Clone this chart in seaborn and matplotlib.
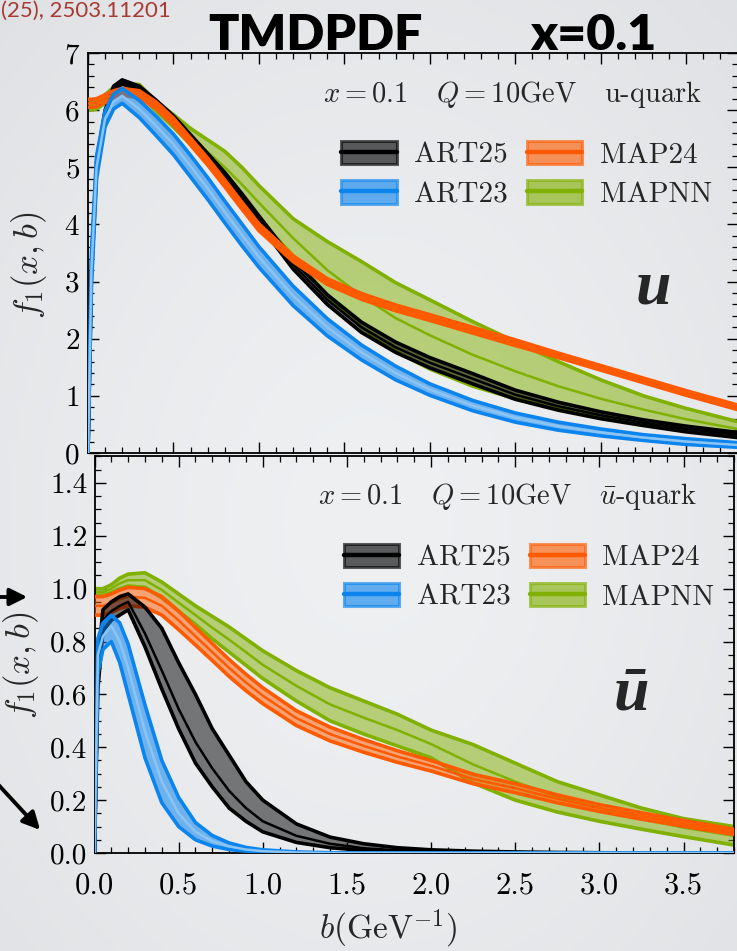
import numpy as np
import matplotlib
matplotlib.use("Agg")
import matplotlib.pyplot as plt
import seaborn as sns
from matplotlib.patches import Patch, FancyArrowPatch
from matplotlib.lines import Line2D
from matplotlib.legend_handler import HandlerTuple
from matplotlib.ticker import MultipleLocator, FormatStrFormatter

# ---------------- data ----------------
B = [0.0, 0.02, 0.05, 0.1, 0.15, 0.2, 0.3, 0.4, 0.5, 0.6, 0.7, 0.8, 0.9, 1.0,
     1.2, 1.4, 1.6, 1.8, 2.0, 2.25, 2.5, 2.75, 3.0, 3.25, 3.5, 3.8]

models = ["ART25", "ART23", "MAP24", "MAPNN"]
colors = {"ART25": "#000000", "ART23": "#0b84ee", "MAP24": "#ff5a00", "MAPNN": "#80b000"}

# u-quark
u_art25_lo = [0, 3.1, 4.9, 5.9, 6.34, 6.46, 6.34, 6.09, 5.8, 5.47, 5.12, 4.79, 4.4, 4.01,
              3.22, 2.6, 2.11, 1.76, 1.49, 1.21, 0.94, 0.75, 0.6, 0.48, 0.37, 0.27]
u_art25_mid = [0, 3.2, 5.0, 5.95, 6.38, 6.5, 6.38, 6.13, 5.85, 5.52, 5.18, 4.85, 4.47, 4.08,
               3.3, 2.68, 2.2, 1.85, 1.58, 1.3, 1.02, 0.82, 0.66, 0.53, 0.42, 0.32]
u_art25_hi = [0, 3.3, 5.1, 6.0, 6.42, 6.53, 6.42, 6.17, 5.9, 5.57, 5.24, 4.91, 4.54, 4.15,
              3.38, 2.77, 2.29, 1.94, 1.67, 1.39, 1.1, 0.89, 0.72, 0.58, 0.47, 0.36]

u_art23_lo = [0, 2.9, 4.8, 5.71, 6.02, 6.12, 5.87, 5.55, 5.22, 4.83, 4.44, 4.03, 3.63, 3.25,
              2.58, 2.05, 1.63, 1.28, 1.01, 0.74, 0.54, 0.4, 0.3, 0.22, 0.15, 0.1]
u_art23_mid = [0, 3.2, 5.0, 5.85, 6.15, 6.25, 6.02, 5.72, 5.4, 5.02, 4.63, 4.22, 3.82, 3.43,
               2.75, 2.2, 1.76, 1.4, 1.11, 0.83, 0.62, 0.47, 0.36, 0.27, 0.2, 0.14]
u_art23_hi = [0, 3.5, 5.2, 5.99, 6.28, 6.38, 6.17, 5.89, 5.58, 5.21, 4.82, 4.41, 4.01, 3.61,
              2.92, 2.35, 1.89, 1.52, 1.21, 0.92, 0.7, 0.54, 0.42, 0.32, 0.25, 0.18]

u_map24_lo = [6.05, 6.05, 6.06, 6.13, 6.22, 6.26, 6.22, 6.02, 5.74, 5.39, 5.04, 4.66, 4.27, 3.89,
              3.35, 2.95, 2.69, 2.49, 2.32, 2.1, 1.88, 1.67, 1.45, 1.23, 1.01, 0.76]
u_map24_mid = [6.12, 6.12, 6.13, 6.2, 6.28, 6.32, 6.28, 6.08, 5.8, 5.45, 5.1, 4.72, 4.33, 3.95,
               3.4, 3.0, 2.74, 2.54, 2.37, 2.15, 1.93, 1.71, 1.49, 1.27, 1.05, 0.8]
u_map24_hi = [6.19, 6.19, 6.2, 6.27, 6.34, 6.38, 6.34, 6.14, 5.86, 5.51, 5.16, 4.78, 4.39, 4.01,
              3.45, 3.05, 2.79, 2.59, 2.42, 2.2, 1.98, 1.75, 1.53, 1.31, 1.09, 0.84]

u_mapnn_lo = [6.0, 6.0, 6.02, 6.12, 6.25, 6.32, 6.27, 5.98, 5.7, 5.4, 5.07, 4.75, 4.42, 4.1,
              3.45, 2.75, 2.2, 1.78, 1.47, 1.17, 0.95, 0.78, 0.64, 0.52, 0.41, 0.29]
u_mapnn_mid = [6.07, 6.07, 6.1, 6.2, 6.33, 6.39, 6.36, 6.07, 5.81, 5.54, 5.27, 5.0, 4.7, 4.38,
               3.76, 3.2, 2.75, 2.36, 2.06, 1.72, 1.43, 1.17, 0.95, 0.76, 0.59, 0.42]
u_mapnn_hi = [6.15, 6.15, 6.17, 6.27, 6.4, 6.46, 6.45, 6.15, 5.92, 5.68, 5.48, 5.28, 5.0, 4.68,
              4.1, 3.7, 3.35, 2.98, 2.68, 2.3, 1.95, 1.6, 1.28, 1.0, 0.78, 0.55]

# u-bar quark
ub_art25_lo = [0, 0.62, 0.84, 0.88, 0.9, 0.92, 0.78, 0.62, 0.47, 0.34, 0.25, 0.17, 0.12, 0.08,
               0.04, 0.02, 0.01, 0.006, 0.003, 0.002, 0.001, 0, 0, 0, 0, 0]
ub_art25_mid = [0, 0.67, 0.88, 0.915, 0.935, 0.95, 0.83, 0.69, 0.545, 0.42, 0.32, 0.235, 0.17, 0.12,
                0.065, 0.035, 0.018, 0.01, 0.006, 0.004, 0.002, 0.001, 0, 0, 0, 0]
ub_art25_hi = [0, 0.72, 0.92, 0.95, 0.97, 0.98, 0.93, 0.85, 0.72, 0.6, 0.47, 0.37, 0.27, 0.2,
               0.11, 0.06, 0.035, 0.02, 0.012, 0.007, 0.004, 0.002, 0.001, 0, 0, 0]

ub_art23_lo = [0, 0.68, 0.77, 0.8, 0.72, 0.6, 0.36, 0.19, 0.1, 0.05, 0.026, 0.013, 0.007, 0.003,
               0.001, 0, 0, 0, 0, 0, 0, 0, 0, 0, 0, 0]
ub_art23_mid = [0, 0.75, 0.82, 0.86, 0.8, 0.7, 0.46, 0.27, 0.15, 0.08, 0.045, 0.025, 0.013, 0.007,
                0.002, 0, 0, 0, 0, 0, 0, 0, 0, 0, 0, 0]
ub_art23_hi = [0, 0.81, 0.87, 0.9, 0.87, 0.79, 0.56, 0.35, 0.21, 0.115, 0.066, 0.038, 0.021, 0.012,
               0.004, 0.001, 0, 0, 0, 0, 0, 0, 0, 0, 0, 0]

ub_map24_lo = [0.9, 0.9, 0.9, 0.91, 0.925, 0.935, 0.93, 0.9, 0.845, 0.787, 0.728, 0.668, 0.614, 0.565,
               0.482, 0.424, 0.381, 0.343, 0.31, 0.262, 0.228, 0.19, 0.157, 0.128, 0.101, 0.07]
ub_map24_mid = [0.935, 0.935, 0.935, 0.945, 0.96, 0.97, 0.965, 0.935, 0.88, 0.82, 0.76, 0.7, 0.645, 0.595,
                0.51, 0.45, 0.405, 0.365, 0.33, 0.28, 0.245, 0.205, 0.17, 0.14, 0.112, 0.08]
ub_map24_hi = [0.97, 0.97, 0.97, 0.98, 0.995, 1.005, 1.0, 0.97, 0.915, 0.853, 0.792, 0.732, 0.676, 0.625,
               0.538, 0.476, 0.429, 0.387, 0.35, 0.298, 0.262, 0.22, 0.183, 0.152, 0.123, 0.09]

ub_mapnn_lo = [0.975, 0.975, 0.975, 0.985, 1.0, 1.01, 1.005, 0.965, 0.915, 0.865, 0.81, 0.76, 0.71, 0.66,
               0.575, 0.5, 0.45, 0.405, 0.36, 0.265, 0.2, 0.155, 0.12, 0.09, 0.062, 0.03]
ub_mapnn_mid = [0.987, 0.987, 0.987, 1.0, 1.02, 1.032, 1.032, 0.995, 0.947, 0.9, 0.852, 0.807, 0.76, 0.712,
                0.632, 0.562, 0.512, 0.465, 0.412, 0.335, 0.27, 0.212, 0.17, 0.13, 0.096, 0.065]
ub_mapnn_hi = [1.0, 1.0, 1.0, 1.015, 1.04, 1.055, 1.06, 1.025, 0.98, 0.935, 0.895, 0.855, 0.81, 0.765,
               0.69, 0.625, 0.575, 0.525, 0.465, 0.41, 0.34, 0.27, 0.22, 0.17, 0.13, 0.1]

u_bands = {
    "ART25": (u_art25_lo, u_art25_mid, u_art25_hi),
    "ART23": (u_art23_lo, u_art23_mid, u_art23_hi),
    "MAP24": (u_map24_lo, u_map24_mid, u_map24_hi),
    "MAPNN": (u_mapnn_lo, u_mapnn_mid, u_mapnn_hi),
}
ub_bands = {
    "ART25": (ub_art25_lo, ub_art25_mid, ub_art25_hi),
    "ART23": (ub_art23_lo, ub_art23_mid, ub_art23_hi),
    "MAP24": (ub_map24_lo, ub_map24_mid, ub_map24_hi),
    "MAPNN": (ub_mapnn_lo, ub_mapnn_mid, ub_mapnn_hi),
}

# ---------------- style ----------------
sns.set_theme(style="ticks")
plt.rcParams["font.family"] = "serif"
plt.rcParams["font.serif"] = ["cmr10", "DejaVu Serif"]
plt.rcParams["mathtext.fontset"] = "cm"
plt.rcParams["axes.unicode_minus"] = False
plt.rcParams["axes.formatter.use_mathtext"] = True

W, H = 737, 951
fig = plt.figure(figsize=(W / 100, H / 100), dpi=100)

# soft slide background
bg = fig.add_axes([0, 0, 1, 1], zorder=-10)
yy, xx = np.mgrid[0:1:300j, 0:1:240j]
r = np.sqrt(((xx - 0.5) / 0.9) ** 2 + ((yy - 0.55) / 0.9) ** 2)
c0 = np.array([0.933, 0.941, 0.949])
c1 = np.array([0.855, 0.863, 0.875])
img = c0[None, None, :] + (c1 - c0)[None, None, :] * np.clip(r, 0, 1)[..., None] ** 1.5
bg.imshow(img, extent=[0, 1, 0, 1], aspect="auto", origin="upper")
bg.set_axis_off()


def px_box(left, right, top, bottom):
    return [left / W, 1 - bottom / H, (right - left) / W, (bottom - top) / H]


ax1 = fig.add_axes(px_box(88, 737.5, 53, 453))
ax2 = fig.add_axes(px_box(94.5, 734, 456.5, 853))
for ax in (ax1, ax2):
    ax.set_facecolor("none")

FILL_ALPHA = {"ART25": 0.5, "ART23": 0.55, "MAP24": 0.5, "MAPNN": 0.5}
MID_COLOR = {"ART25": "#000000", "ART23": "#8cc4f3", "MAP24": "#ff5a00", "MAPNN": "#80b000"}


def draw_band(ax, name, lo, mid, hi, z):
    col = colors[name]
    ax.fill_between(B, lo, hi, color=col, alpha=FILL_ALPHA[name], lw=0, zorder=z)
    for edge in (lo, hi):
        sns.lineplot(x=B, y=edge, ax=ax, color=col, lw=2.6, zorder=z + 0.1,
                     errorbar=None, sort=False, solid_joinstyle="round", solid_capstyle="round")
    sns.lineplot(x=B, y=mid, ax=ax, color=MID_COLOR[name], lw=1.8, zorder=z + 0.2,
                 errorbar=None, sort=False, solid_joinstyle="round")


for i, name in enumerate(["MAPNN", "ART25", "MAP24", "ART23"]):
    draw_band(ax1, name, *u_bands[name], z=2 + i)
for i, name in enumerate(["MAPNN", "MAP24", "ART25", "ART23"]):
    draw_band(ax2, name, *ub_bands[name], z=2 + i)

# axes, ticks
for ax in (ax1, ax2):
    ax.set_xlim(0, 3.8)
    ax.xaxis.set_major_locator(MultipleLocator(0.5))
    ax.xaxis.set_minor_locator(MultipleLocator(0.1))
    ax.tick_params(which="both", direction="in", top=True, right=True, colors="black")
    ax.tick_params(which="major", length=8, width=1.0)
    ax.tick_params(which="minor", length=4.5, width=0.9)
    for s in ax.spines.values():
        s.set_linewidth(1.3)
        s.set_color("black")
    ax.set_xlabel("")
    ax.set_ylabel("")

ax1.set_ylim(0, 7)
ax1.yaxis.set_major_locator(MultipleLocator(1))
ax1.yaxis.set_minor_locator(MultipleLocator(0.2))
ax1.tick_params(axis="x", labelbottom=False)
ax1.tick_params(axis="y", labelsize=21, pad=6)

ax2.set_ylim(0, 1.5)
ax2.yaxis.set_major_locator(MultipleLocator(0.2))
ax2.yaxis.set_minor_locator(MultipleLocator(0.05))
ax2.yaxis.set_major_formatter(FormatStrFormatter("%.1f"))
ax2.xaxis.set_major_formatter(FormatStrFormatter("%.1f"))
ax2.tick_params(axis="y", labelsize=21, pad=5)
ax2.tick_params(axis="x", labelsize=22, pad=14)

ax2.set_xlabel(r"$b(\mathrm{GeV}^{-1})$", fontsize=24)
ax2.xaxis.set_label_coords(0.459, -0.138)
ax1.set_ylabel(r"$f_1(x,b)$", fontsize=25)
ax1.yaxis.set_label_coords(-0.06, 0.47)
ax2.set_ylabel(r"$f_1(x,b)$", fontsize=25)
ax2.yaxis.set_label_coords(-0.083, 0.474)

# legends
def legend_handles():
    hs = []
    for name in models:
        col = colors[name]
        patch = Patch(facecolor=col, edgecolor=col, alpha=0.62, lw=2.2)
        line = Line2D([], [], color=col, lw=3.2)
        hs.append((patch, line))
    return hs


for ax, y0 in ((ax1, 0.78), (ax2, 0.78)):
    ax.legend(legend_handles(), models, ncol=2, loc="upper left",
              bbox_to_anchor=(0.39, y0), frameon=False, fontsize=21,
              handler_map={tuple: HandlerTuple(ndivide=1, pad=0)},
              handlelength=1.9, handleheight=0.85, handletextpad=0.6,
              columnspacing=0.65, labelspacing=0.4, borderpad=0, borderaxespad=0)

ax1.text(0.362, 0.895, r"$x = 0.1$   $Q = 10\mathrm{GeV}$   u-quark",
         transform=ax1.transAxes, fontsize=20.5, va="center", ha="left")
ax2.text(0.35, 0.898, r"$x = 0.1$   $Q = 10\mathrm{GeV}$   $\bar{u}$-quark",
         transform=ax2.transAxes, fontsize=20.5, va="center", ha="left")

ax1.text(0.87, 0.41, "u", transform=ax1.transAxes, fontsize=46, fontweight="bold",
         fontstyle="italic", family=["Liberation Serif", "DejaVu Serif"], ha="center", va="center")
ax2.text(0.84, 0.40, "\u016b", transform=ax2.transAxes, fontsize=46, fontweight="bold",
         fontstyle="italic", family=["Liberation Serif", "DejaVu Serif"], ha="center", va="center")

# slide title and annotations
title_family = ["Lato", "DejaVu Sans"]
fig.text(315 / W, 1 - 50 / H, "TMDPDF", fontsize=36, fontweight="heavy",
         family=title_family, ha="center", va="baseline", color="black")
fig.text(593 / W, 1 - 50 / H, "x=0.1", fontsize=36, fontweight="heavy",
         family=title_family, ha="center", va="baseline", color="black")
fig.text(1 / W, 1 - 17 / H, "(25), 2503.11201", fontsize=16,
         family=title_family, ha="left", va="baseline", color="#a83a32")

arrow_kw = dict(arrowstyle="-|>", mutation_scale=26, lw=2.8, color="black",
                transform=fig.transFigure)
fig.add_artist(FancyArrowPatch((-4 / W, 1 - 597 / H), (30 / W, 1 - 597 / H), **arrow_kw))
fig.add_artist(FancyArrowPatch((-6 / W, 1 - 780 / H), (42 / W, 1 - 832 / H), **arrow_kw))

fig.savefig("out.png", dpi=100, facecolor=fig.get_facecolor())
